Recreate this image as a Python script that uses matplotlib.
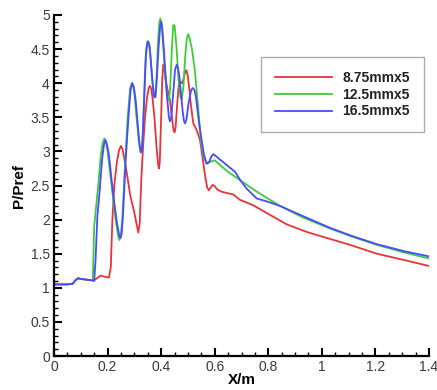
import numpy as np
import matplotlib
matplotlib.use("Agg")
import matplotlib.pyplot as plt
from matplotlib.ticker import MultipleLocator, FormatStrFormatter

plt.rcParams['font.family'] = ['Liberation Sans', 'DejaVu Sans']

# shared inflow part (all three curves lie on top of each other here)
x_in = [0.0, 0.02, 0.05, 0.07, 0.08, 0.09, 0.1, 0.12, 0.14]
y_in = [1.05, 1.05, 1.05, 1.06, 1.11, 1.14, 1.13, 1.12, 1.11]

x_red = [0.15, 0.16, 0.175, 0.19, 0.205, 0.212, 0.218, 0.225, 0.235, 0.243, 0.25,
         0.256, 0.263, 0.271, 0.285, 0.3, 0.31, 0.315, 0.32, 0.326, 0.333, 0.34,
         0.347, 0.353, 0.358, 0.363, 0.368, 0.375, 0.383, 0.389, 0.392, 0.395,
         0.4, 0.404, 0.408, 0.412, 0.417, 0.423, 0.433, 0.44, 0.446, 0.45, 0.454,
         0.46, 0.466, 0.472, 0.478, 0.485, 0.49, 0.494, 0.499, 0.505, 0.512,
         0.52, 0.533, 0.545, 0.555, 0.565, 0.572, 0.578, 0.585, 0.592, 0.6,
         0.61, 0.625, 0.645, 0.669, 0.694, 0.713, 0.744, 0.806, 0.869, 0.943,
         0.993, 1.105, 1.205, 1.304, 1.4]
y_red = [1.11, 1.14, 1.18, 1.16, 1.15, 1.3, 2.0, 2.5, 2.85, 3.02, 3.08,
         3.03, 2.88, 2.7, 2.35, 2.1, 1.9, 1.81, 1.95, 2.6, 3.1, 3.5,
         3.78, 3.92, 3.96, 3.92, 3.78, 3.5, 3.05, 2.8, 2.75, 2.85,
         3.5, 4.05, 4.27, 4.22, 4.05, 3.92, 3.75, 3.5, 3.32, 3.28, 3.35,
         3.7, 3.98, 4.02, 4.0, 4.08, 4.17, 4.19, 4.12, 3.92, 3.65,
         3.41, 3.31, 3.17, 2.9, 2.62, 2.47, 2.43, 2.47, 2.51, 2.49,
         2.44, 2.41, 2.39, 2.37, 2.29, 2.26, 2.21, 2.07, 1.93, 1.82,
         1.76, 1.63, 1.50, 1.41, 1.32]

x_green = [0.145, 0.15, 0.155, 0.165, 0.175, 0.182, 0.188, 0.194, 0.2, 0.215, 0.23,
           0.24, 0.244, 0.249, 0.255, 0.265, 0.275, 0.284, 0.29, 0.295, 0.3, 0.308,
           0.318, 0.324, 0.328, 0.333, 0.339, 0.344, 0.349, 0.354, 0.36, 0.368,
           0.374, 0.378, 0.383, 0.389, 0.393, 0.397, 0.401, 0.407, 0.415, 0.423,
           0.429, 0.434, 0.44, 0.445, 0.45, 0.457, 0.465, 0.472, 0.477, 0.483,
           0.49, 0.496, 0.501, 0.507, 0.515, 0.526, 0.539, 0.55, 0.56, 0.57,
           0.585, 0.6, 0.62, 0.65, 0.697, 0.757, 0.844, 0.93, 1.03, 1.105, 1.205,
           1.304, 1.4]
y_green = [1.12, 1.9, 2.1, 2.5, 2.95, 3.13, 3.19, 3.13, 3.0, 2.5, 2.0,
           1.75, 1.70, 1.78, 2.0, 2.8, 3.5, 3.92, 4.0, 3.97, 3.85, 3.5,
           3.1, 2.98, 3.0, 3.35, 4.1, 4.5, 4.62, 4.58, 4.4, 4.0,
           3.82, 3.82, 4.1, 4.65, 4.88, 4.95, 4.88, 4.6, 4.1, 3.8,
           3.75, 3.95, 4.5, 4.85, 4.85, 4.55, 4.05, 3.8, 3.76, 3.95,
           4.4, 4.66, 4.72, 4.65, 4.5, 4.19, 3.6, 3.1, 2.9, 2.82,
           2.85, 2.87, 2.80, 2.7, 2.57, 2.41, 2.20, 2.03, 1.87, 1.76, 1.63,
           1.52, 1.43]

x_blue = [0.15, 0.155, 0.162, 0.17, 0.18, 0.187, 0.192, 0.198, 0.205, 0.22, 0.235,
          0.244, 0.249, 0.253, 0.258, 0.268, 0.278, 0.286, 0.292, 0.298, 0.305,
          0.318, 0.324, 0.328, 0.332, 0.337, 0.343, 0.348, 0.352, 0.357, 0.362,
          0.37, 0.375, 0.379, 0.383, 0.39, 0.396, 0.40, 0.404, 0.41, 0.422,
          0.429, 0.433, 0.438, 0.445, 0.452, 0.458, 0.463, 0.468, 0.48, 0.485,
          0.489, 0.494, 0.503, 0.512, 0.518, 0.524, 0.53, 0.542, 0.551, 0.56,
          0.57, 0.58, 0.588, 0.595, 0.605, 0.62, 0.676, 0.697, 0.72, 0.757,
          0.8, 0.844, 0.93, 1.03, 1.105, 1.205, 1.304, 1.4]
y_blue = [1.1, 1.4, 2.05, 2.4, 2.9, 3.11, 3.17, 3.1, 2.95, 2.4, 1.95,
          1.76, 1.73, 1.8, 2.1, 2.9, 3.5, 3.9, 4.0, 3.95, 3.75,
          3.15, 2.99, 3.0, 3.3, 3.8, 4.4, 4.58, 4.61, 4.55, 4.3,
          3.9, 3.79, 3.8, 4.0, 4.5, 4.82, 4.9, 4.82, 4.5, 3.8,
          3.5, 3.44, 3.5, 3.85, 4.2, 4.27, 4.22, 4.1, 3.6, 3.45,
          3.41, 3.46, 3.72, 3.9, 3.93, 3.9, 3.8, 3.4, 3.17, 2.95,
          2.82, 2.85, 2.93, 2.96, 2.93, 2.88, 2.70, 2.57, 2.45, 2.31,
          2.26, 2.20, 2.05, 1.88, 1.77, 1.64, 1.54, 1.46]

labels = ['8.75mmx5', '12.5mmx5', '16.5mmx5']
colors = ['#e8333a', '#3ccc3c', '#4a4aff']

fig = plt.figure(figsize=(4.37, 3.90), dpi=100)
ax = fig.add_axes([54 / 437, 34 / 390, 375 / 437, 341 / 390])

series = [(x_red, y_red), (x_green, y_green), (x_blue, y_blue)]
for (xs, ys), lab, c in zip(series, labels, colors):
    ax.plot(x_in + xs, y_in + ys, color=c, lw=1.3, label=lab)

ax.set_xlim(0, 1.4)
ax.set_ylim(0, 5)
ax.xaxis.set_major_locator(MultipleLocator(0.2))
ax.xaxis.set_minor_locator(MultipleLocator(0.05))
ax.yaxis.set_major_locator(MultipleLocator(0.5))
ax.yaxis.set_minor_locator(MultipleLocator(0.1))
ax.xaxis.set_major_formatter(FormatStrFormatter('%g'))
ax.yaxis.set_major_formatter(FormatStrFormatter('%g'))

for s in ['top', 'right']:
    ax.spines[s].set_visible(False)
for s in ['left', 'bottom']:
    ax.spines[s].set_linewidth(1.6)
ax.tick_params(which='major', direction='in', length=6, width=1.5,
               labelsize=10, labelcolor='#3a3a3a', pad=3)
ax.tick_params(which='minor', direction='in', length=3, width=1.0)

ax.set_xlabel('X/m', fontsize=11, fontweight='bold', labelpad=-1)
ax.set_ylabel('P/Pref', fontsize=11, fontweight='bold', labelpad=3)

leg = ax.legend(loc='upper left', bbox_to_anchor=(261 / 437, 1 - 57 / 390),
                bbox_transform=fig.transFigure, frameon=True, fancybox=False,
                edgecolor='#999999', handlelength=4.1, handletextpad=0.75,
                labelspacing=0.2, borderpad=1.0, borderaxespad=0,
                prop={'weight': 'bold', 'size': 10})
leg.get_frame().set_linewidth(1.0)
for t in leg.get_texts():
    t.set_color('#222222')

fig.savefig('out.png', dpi=100)
